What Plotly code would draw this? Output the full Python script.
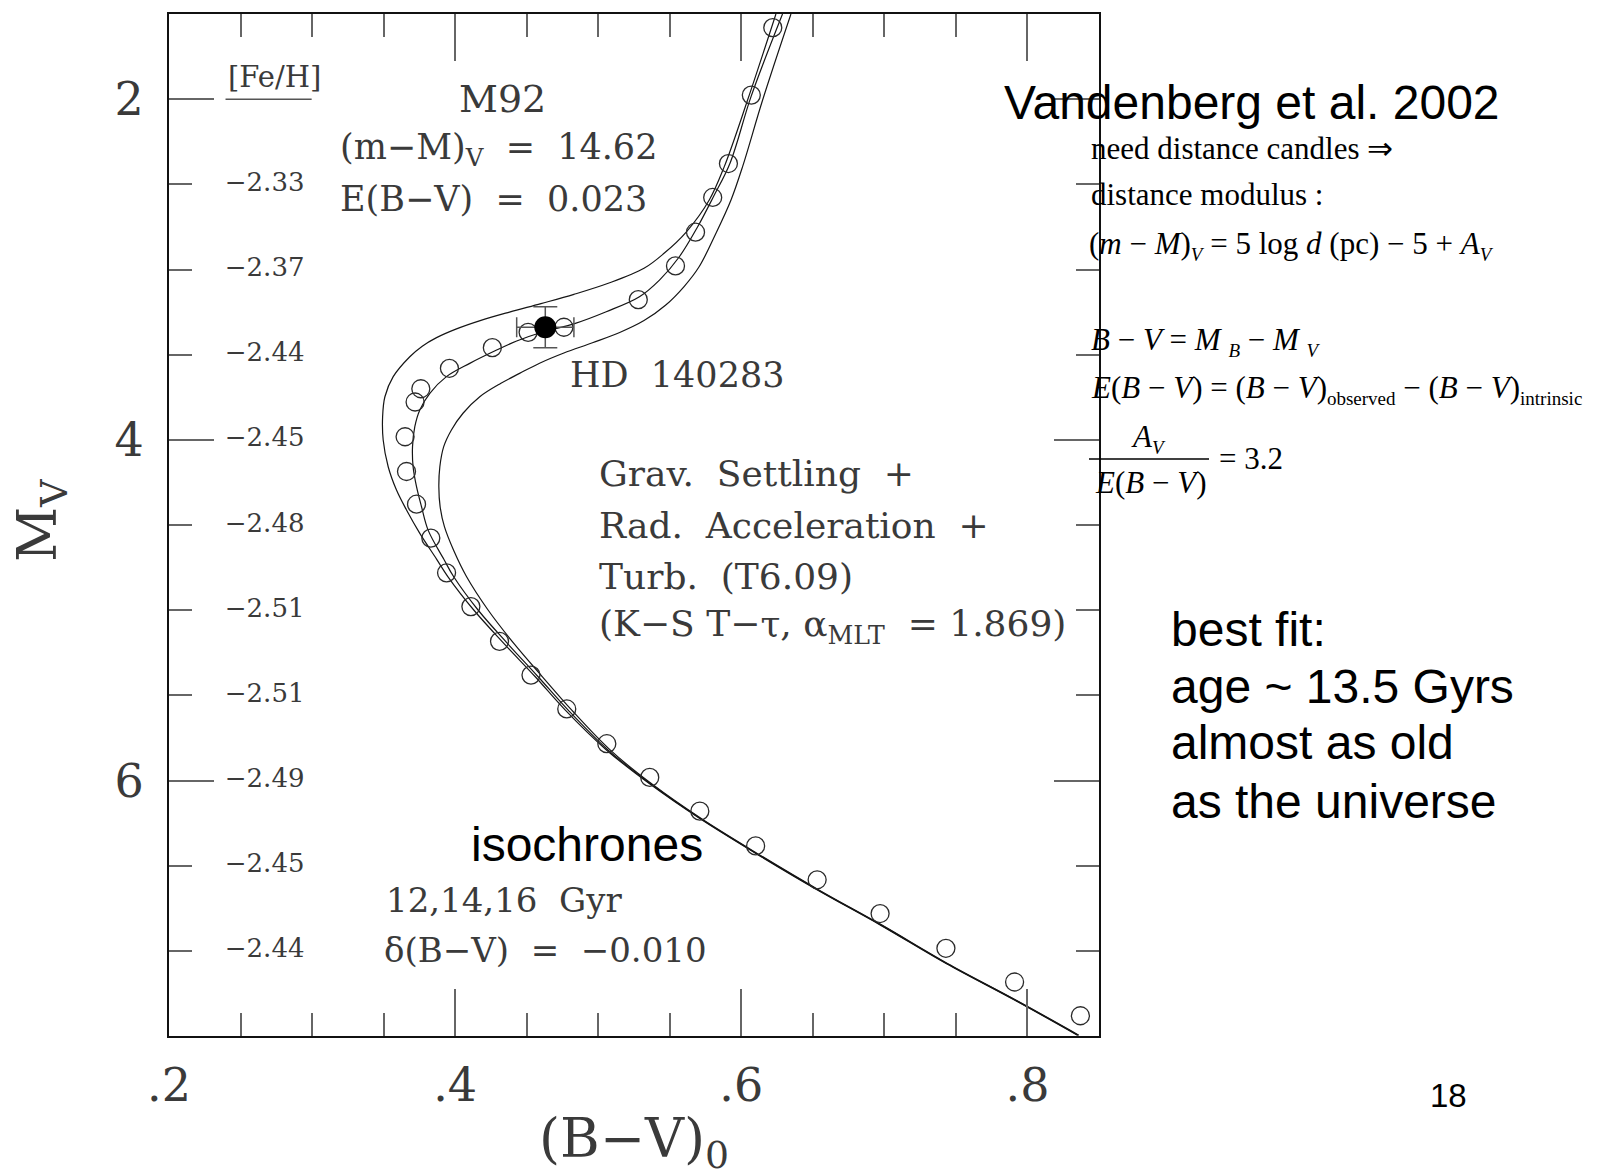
import plotly.graph_objects as go

# ---------------------------------------------------------------- data
# Isochrones, ordered from the red-giant branch down the main sequence
iso12_mv = [1.50, 2.005, 2.396, 2.592, 2.780, 2.905, 2.993, 3.081, 3.146, 3.200, 3.250, 3.300,
            3.350, 3.400, 3.450, 3.512, 3.629, 3.747, 3.864, 4.001, 4.158, 4.295, 4.412, 4.549,
            4.700, 4.804, 4.999, 5.195, 5.391, 5.587, 5.822, 6.027, 6.222, 6.428, 6.644, 6.849,
            7.074, 7.290, 7.495]
iso12_bv = [0.6242, 0.6044, 0.5881, 0.5776, 0.5615, 0.5460, 0.5320, 0.5070, 0.4830, 0.4600, 0.4380, 0.4175,
            0.4005, 0.3870, 0.3770, 0.3683, 0.3567, 0.3509, 0.3493, 0.3497, 0.3532, 0.3590, 0.3660, 0.3753,
            0.3870, 0.3950, 0.4130, 0.4340, 0.4560, 0.4770, 0.5059, 0.5371, 0.5707, 0.6101, 0.6535, 0.6973,
            0.7431, 0.7912, 0.8349]

iso14_mv = [1.50, 1.985, 2.376, 2.573, 2.749, 2.925, 3.062, 3.160, 3.248, 3.316, 3.370, 3.420,
            3.473, 3.551, 3.629, 3.727, 3.825, 3.923, 4.040, 4.158, 4.275, 4.393, 4.530, 4.700,
            4.804, 4.999, 5.195, 5.391, 5.587, 5.822, 6.027, 6.222, 6.428, 6.644, 6.849, 7.074,
            7.290, 7.495]
iso14_bv = [0.6288, 0.6068, 0.5921, 0.5805, 0.5695, 0.5567, 0.5428, 0.5288, 0.5056, 0.4840, 0.4600, 0.4430,
            0.4290, 0.4102, 0.3939, 0.3823, 0.3753, 0.3718, 0.3702, 0.3706, 0.3730, 0.3765, 0.3811, 0.3920,
            0.3990, 0.4160, 0.4365, 0.4580, 0.4790, 0.5070, 0.5378, 0.5712, 0.6106, 0.6540, 0.6978, 0.7436,
            0.7917, 0.8354]

iso16_mv = [1.50, 2.005, 2.396, 2.592, 2.787, 2.984, 3.100, 3.210, 3.300, 3.370, 3.430, 3.490,
            3.550, 3.610, 3.668, 3.747, 3.844, 3.942, 4.040, 4.158, 4.275, 4.393, 4.510, 4.650,
            4.804, 4.999, 5.195, 5.391, 5.587, 5.822, 6.027, 6.222, 6.428, 6.644, 6.849, 7.074,
            7.290, 7.495]
iso16_bv = [0.6347, 0.6149, 0.6009, 0.5928, 0.5823, 0.5705, 0.5600, 0.5470, 0.5320, 0.5150, 0.4960, 0.4760,
            0.4590, 0.4450, 0.4320, 0.4172, 0.4055, 0.3974, 0.3920, 0.3893, 0.3886, 0.3895, 0.3925, 0.3990,
            0.4080, 0.4230, 0.4410, 0.4610, 0.4815, 0.5085, 0.5385, 0.5717, 0.6111, 0.6545, 0.6983, 0.7441,
            0.7922, 0.8359]

# M92 fiducial sequence
m92_bv = [0.622, 0.607, 0.591, 0.580, 0.568, 0.554, 0.528, 0.476, 0.451, 0.426, 0.396, 0.376,
          0.372, 0.365, 0.366, 0.373, 0.383, 0.394, 0.411, 0.431, 0.453, 0.478, 0.506, 0.536,
          0.571, 0.610, 0.653, 0.697, 0.743, 0.791, 0.837]
m92_mv = [1.58, 1.976, 2.378, 2.577, 2.781, 2.979, 3.177, 3.339, 3.369, 3.459, 3.580, 3.700,
          3.778, 3.982, 4.186, 4.378, 4.577, 4.781, 4.979, 5.183, 5.381, 5.580, 5.784, 5.982,
          6.180, 6.384, 6.583, 6.781, 6.985, 7.183, 7.381]

# HD 140283 with its errors
hd_bv = [0.463]
hd_mv = [3.339]
hd_bv_err = [0.02]
hd_mv_err = [0.12]

# [Fe/H] column next to the magnitude ticks
feh_mv = [2.5, 3.0, 3.5, 4.0, 4.5, 5.0, 5.5, 6.0, 6.5, 7.0]
feh_labels = ["−2.33", "−2.37", "−2.44", "−2.45", "−2.48", "−2.51", "−2.51", "−2.49", "−2.45", "−2.44"]

x_tick_vals = [0.2, 0.4, 0.6, 0.8]
x_tick_text = [".2", ".4", ".6", ".8"]
x_minor_vals = [0.25, 0.3, 0.35, 0.45, 0.5, 0.55, 0.65, 0.7, 0.75]
y_tick_vals = [2, 4, 6]
y_tick_text = ["2", "4", "6"]
y_minor_vals = [2.5, 3.0, 3.5, 4.5, 5.0, 5.5, 6.5, 7.0]

# ---------------------------------------------------------------- style
W, H = 1604, 1176
PL, PT, PW, PH = 169, 14, 930, 1022
SERIF = "DejaVu Serif"
SANS = "Liberation Sans, Arial"
TIMES = "Liberation Serif, Times New Roman"
INK = "#3a3a3a"


def paper_x(px):
    return (px - PL) / PW


def paper_y(py):
    return (PT + PH - py) / PH


fig = go.Figure()

line_style = dict(color="#151515", width=1.2, shape="spline", smoothing=1.0)
for bv, mv, name in [(iso12_bv, iso12_mv, "12 Gyr"), (iso14_bv, iso14_mv, "14 Gyr"),
                     (iso16_bv, iso16_mv, "16 Gyr")]:
    fig.add_trace(go.Scatter(x=bv, y=mv, mode="lines", line=line_style, name=name,
                             showlegend=False, hoverinfo="skip"))

fig.add_trace(go.Scatter(
    x=m92_bv, y=m92_mv, mode="markers", showlegend=False,
    marker=dict(symbol="circle-open", size=18, color="#2a2a2a", line=dict(width=1.3, color="#2a2a2a")),
))

fig.add_trace(go.Scatter(
    x=hd_bv, y=hd_mv, mode="markers", showlegend=False,
    marker=dict(symbol="circle", size=22, color="black"),
    error_x=dict(type="data", array=hd_bv_err, color="#555555", thickness=1.5, width=10),
    error_y=dict(type="data", array=hd_mv_err, color="#555555", thickness=1.5, width=12),
))

fig.add_trace(go.Scatter(
    x=[0.239] * len(feh_mv), y=feh_mv, mode="text", text=feh_labels, showlegend=False,
    textposition="middle right", textfont=dict(family=SERIF, size=26, color=INK),
))

axis_common = dict(
    showline=True, linecolor="#111111", linewidth=2, mirror="ticks",
    ticks="inside", tickwidth=1.5, tickcolor="#666666",
    showgrid=False, zeroline=False,
    tickfont=dict(family=SERIF, size=46, color=INK),
)
fig.update_xaxes(range=[0.2, 0.85], tickvals=x_tick_vals, ticktext=x_tick_text, ticklen=47,
                 ticklabelstandoff=8,
                 minor=dict(tickvals=x_minor_vals, ticks="inside", ticklen=23, tickwidth=1.5,
                            tickcolor="#666666", showgrid=False),
                 **axis_common)
fig.update_yaxes(range=[7.5, 1.5], tickvals=y_tick_vals, ticktext=y_tick_text, ticklen=45,
                 ticklabelstandoff=14,
                 minor=dict(tickvals=y_minor_vals, ticks="inside", ticklen=23, tickwidth=1.5,
                            tickcolor="#666666", showgrid=False),
                 **axis_common)

ann = []


def text_data(x, y, s, size=37, anchor="left"):
    ann.append(dict(x=x, y=y, xref="x", yref="y", text=s, showarrow=False, xanchor=anchor,
                    yanchor="middle", font=dict(family=SERIF, size=size, color=INK)))


NB = "\u00a0"
text_data(0.2738, 1.87, "[Fe/H]", size=29, anchor="center")
text_data(0.4334, 2.0, "M92", size=38, anchor="center")
text_data(0.3178, 2.297, f"(m−M)<sub>V</sub>{NB}{NB}={NB}{NB}14.62", size=35)
text_data(0.3178, 2.589, f"E(B−V){NB}{NB}={NB}{NB}0.023", size=35)
text_data(0.4790, 3.619, f"HD{NB}{NB}140283", size=35)
text_data(0.4990, 4.20, f"Grav.{NB}{NB}Settling{NB}{NB}+", size=36)
text_data(0.4990, 4.50, f"Rad.{NB}{NB}Acceleration{NB}{NB}+", size=36)
text_data(0.4990, 4.80, f"Turb.{NB}{NB}(T6.09)", size=36)
text_data(0.4990, 5.093, f"(K−S{NB}T−τ,{NB}α<sub>MLT</sub>{NB}{NB}={NB}1.869)", size=36)
text_data(0.3505, 6.70, f"12,14,16{NB}{NB}Gyr", size=34)
text_data(0.3490, 6.997, f"δ(B−V){NB}{NB}={NB}{NB}−0.010", size=34)

# axis titles
ann.append(dict(x=paper_x(634), y=paper_y(1142), xref="paper", yref="paper", showarrow=False,
                text="(B−V)<sub>0</sub>", xanchor="center", yanchor="middle",
                font=dict(family=SERIF, size=54, color=INK)))
ann.append(dict(x=paper_x(41), y=paper_y(521), xref="paper", yref="paper", showarrow=False,
                text="M<sub>V</sub>", textangle=-90, xanchor="center", yanchor="middle",
                font=dict(family=SERIF, size=54, color=INK)))


def text_px(x, y, s, family, size, anchor="left"):
    ann.append(dict(x=paper_x(x), y=paper_y(y), xref="paper", yref="paper", text=s, showarrow=False,
                    xanchor=anchor, yanchor="middle", font=dict(family=family, size=size, color="black")))


def small(s):
    return f'<span style="font-size:19px">{s}</span>'


text_px(1002, 103, "Vandenberg et al. 2002", SANS, 48)
text_px(1089, 148, "need distance candles ⇒", TIMES, 31)
text_px(1089, 195, "distance modulus :", TIMES, 31)
text_px(1087, 245, "(<i>m</i> − <i>M</i>)<sub><i>" + small("V") + "</i></sub> = 5 log <i>d</i> (pc) − 5 + <i>A</i>"
        "<sub><i>" + small("V") + "</i></sub>", TIMES, 31)
text_px(1089, 341, "<i>B</i> − <i>V</i> = <i>M</i> <sub><i>" + small("B") + "</i></sub> − <i>M</i> <sub><i>"
        + small("V") + "</i></sub>", TIMES, 31)
text_px(1089, 389, "<i>E</i>(<i>B</i> − <i>V</i>) = (<i>B</i> − <i>V</i>)<sub>" + small("observed") + "</sub> − "
                   "(<i>B</i> − <i>V</i>)<sub>" + small("intrinsic") + "</sub>", TIMES, 31)
text_px(1148, 439, "<i>A</i><sub><i>" + small("V") + "</i></sub>", TIMES, 31, anchor="center")
text_px(1150, 483, "<i>E</i>(<i>B</i> − <i>V</i>)", TIMES, 31, anchor="center")
text_px(1217, 458, "= 3.2", TIMES, 31)

text_px(469, 844, "isochrones", SANS, 48)
text_px(1169, 629, "best fit:", SANS, 48)
text_px(1169, 686, "age ~ 13.5 Gyrs", SANS, 48)
text_px(1169, 743, "almost as old", SANS, 48)
text_px(1169, 801, "as the universe", SANS, 48)
text_px(1448, 1095, "18", SANS, 33, anchor="center")

shapes = [
    # underline of the [Fe/H] header
    dict(type="line", xref="x", yref="y", x0=0.2395, x1=0.2997, y0=2.0, y1=2.0,
         line=dict(color="#555555", width=1.5)),
    # fraction bar of A_V / E(B-V)
    dict(type="line", xref="paper", yref="paper", x0=paper_x(1089), x1=paper_x(1209),
         y0=paper_y(459), y1=paper_y(459), line=dict(color="black", width=1.5)),
]

fig.update_layout(
    width=W, height=H,
    margin=dict(l=PL, r=W - PL - PW, t=PT, b=H - PT - PH),
    paper_bgcolor="white", plot_bgcolor="white",
    showlegend=False,
    annotations=ann, shapes=shapes,
)

fig.write_html("out.html")
